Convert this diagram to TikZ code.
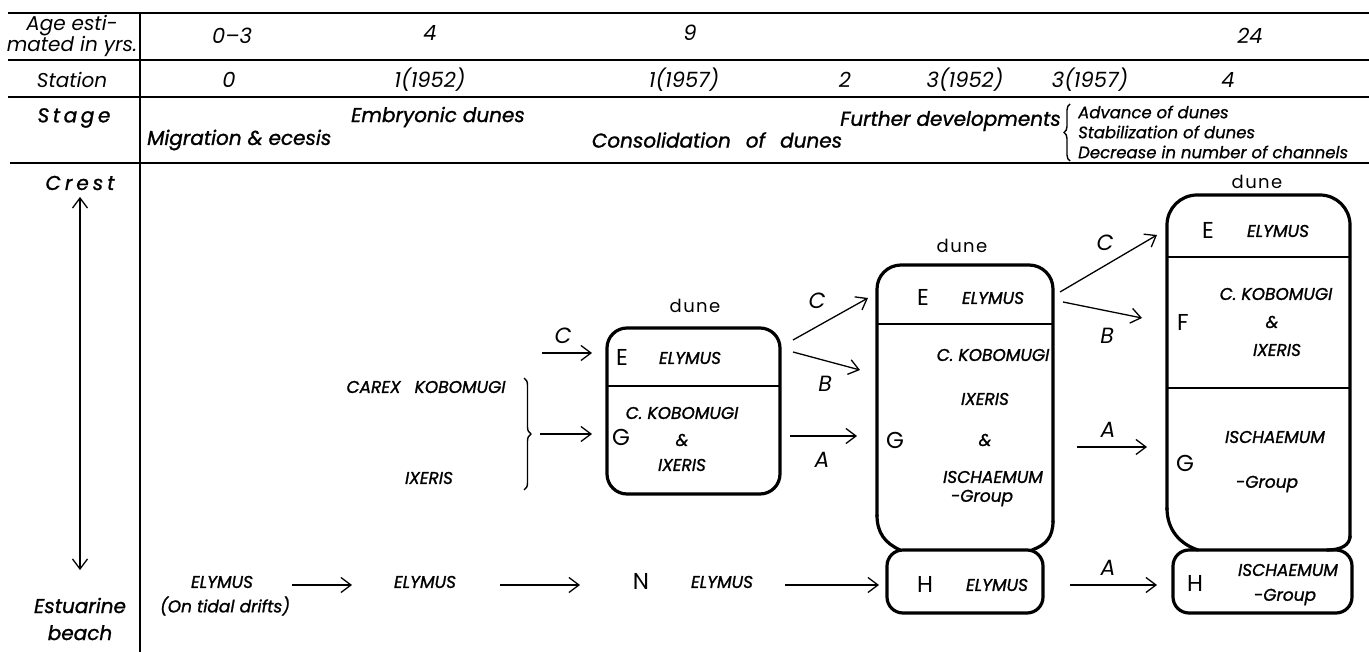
\documentclass[tikz,border=0pt]{standalone}
\usepackage{fontspec}
\setmainfont{Poppins}
\usetikzlibrary{arrows.meta,decorations.pathreplacing}
\begin{document}
\begin{tikzpicture}[x=1pt,y=-1pt,
  rule/.style={line width=1.8pt},
  thinrule/.style={line width=1.4pt},
  box/.style={line width=3.2pt,line join=round,line cap=round},
  arr/.style={line width=1.3pt,-{Straight Barb[length=10pt,width=15pt,line width=1.3pt]}},
  dbl/.style={line width=1.3pt,{Straight Barb[length=10pt,width=15pt,line width=1.3pt]}-{Straight Barb[length=10pt,width=15pt,line width=1.3pt]}},
  hd/.style={inner sep=0pt,align=center,font=\fontsize{20}{20}\selectfont\itshape},
  hv/.style={inner sep=0pt,align=center,font=\fontsize{21}{22}\selectfont\itshape},
  st/.style={inner sep=0pt,align=center,font=\fontsize{20}{27}\selectfont\itshape\addfontfeatures{FakeBold=1.2}},
  sm/.style={inner sep=0pt,font=\fontsize{16.5}{18}\selectfont\itshape\addfontfeatures{FakeBold=0.8}},
  sp/.style={inner sep=0pt,font=\fontsize{17}{19}\selectfont\itshape\addfontfeatures{FakeBold=1.2}},
  lt/.style={inner sep=0pt,font=\fontsize{23}{24}\selectfont},
  al/.style={inner sep=0pt,font=\fontsize{22}{24}\selectfont\itshape},
  dn/.style={inner sep=0pt,font=\fontsize{18}{20}\selectfont\addfontfeatures{LetterSpace=8}}
]
\useasboundingbox (0,0) rectangle (1369,652);
\fill[white] (0,0) rectangle (1369,652);

% table rules
\draw[rule] (8,13) -- (1369,13);
\draw[rule] (8,60) -- (1369,60);
\draw[rule] (8,97) -- (1369,97);
\draw[rule] (10,163) -- (1369,163);
\draw[rule] (140,13) -- (140,652);

% header column
\node[hd] (agehd) at (72,36) {Age esti-\\mated in yrs.};
\node[hd] (stathd) at (72,80) {Station};
\node[st] (stagehd) at (74,118) {\addfontfeatures{LetterSpace=18}Stage};

% age row
\node[hv] (ag0) at (232,36) {0–3};
\node[hv] (ag1) at (430,33) {4};
\node[hv] (ag2) at (690,33) {9};
\node[hv] (ag3) at (1250,36) {24};

% station row
\node[hv] (s0) at (229,80) {0};
\node[hv] (s1) at (430,80) {1(1952)};
\node[hv] (s2) at (684,80) {1(1957)};
\node[hv] (s3) at (845,80) {2};
\node[hv] (s4) at (965,80) {3(1952)};
\node[hv] (s5) at (1090,80) {3(1957)};
\node[hv] (s6) at (1228,80) {4};

% stage row
\node[st,anchor=west] (mig) at (147,140) {Migration \& ecesis};
\node[st] (emb) at (438,117) {Embryonic dunes};
\node[st] (cons) at (717,140) {Consolidation\hspace{9pt} of\hspace{9pt} dunes};
\node[st,anchor=east] (fur) at (1061,121) {Further developments};
\draw[thinrule,decorate,decoration={brace,amplitude=6pt}] (1070,161) -- (1070,104);
\node[sm,anchor=west] (adv) at (1078,112) {Advance of dunes};
\node[sm,anchor=west] (stab) at (1078,132) {Stabilization of dunes};
\node[sm,anchor=west] (dec) at (1078,152) {Decrease in number of channels};

% crest / beach axis
\node[st] (crest) at (80,183) {\addfontfeatures{LetterSpace=20}Crest};
\node[st] (est) at (80,619) {Estuarine\\beach};
\coordinate (ctop) at (80,197);
\coordinate (cbot) at (80,570);
\draw[dbl] (ctop) -- (cbot);

% initial species and brace
\node[sp] (carex) at (426,387) {CAREX\hspace{14pt}KOBOMUGI};
\node[sp] (ixl) at (429,478) {IXERIS};
\draw[thinrule,decorate,decoration={brace,amplitude=7pt}] (524,378) -- (524,490);
\coordinate (c1s) at (542,353);
\coordinate (c1e) at (592,353);
\draw[arr] (c1s) -- (c1e);
\node[al] (c1l) at (563,336) {C};
\coordinate (k1s) at (540,434);
\coordinate (k1e) at (592,434);
\draw[arr] (k1s) -- (k1e);

% box 1
\draw[box,rounded corners=20pt] (607,328) rectangle (780,494);
\draw[thinrule] (607,386) -- (780,386);
\node[dn] (b1d) at (695,306) {dune};
\node[lt] (b1E) at (622,357) {E};
\node[sp] (b1Es) at (690,358) {ELYMUS};
\node[lt] (b1G) at (621,437) {G};
\node[sp] (b1k) at (682,413) {C. KOBOMUGI};
\node[sp] (b1a) at (682,440) {\&};
\node[sp] (b1i) at (682,465) {IXERIS};

% arrows box1 -> box2
\coordinate (o1Cs) at (793,340);
\coordinate (o1Ce) at (868,298);
\draw[arr] (o1Cs) -- (o1Ce);
\node[al] (o1Cl) at (817,301) {C};
\coordinate (o1Bs) at (793,352);
\coordinate (o1Be) at (860,370);
\draw[arr] (o1Bs) -- (o1Be);
\node[al] (o1Bl) at (825,384) {B};
\coordinate (o1As) at (790,436);
\coordinate (o1Ae) at (857,436);
\draw[arr] (o1As) -- (o1Ae);
\node[al] (o1Al) at (822,460) {A};

% box 2
\draw[box,rounded corners=24pt] (877,516) -- (877,265) -- (1053,265) -- (1053,522);
\draw[box] (877,515) .. controls (877,533) and (885,543) .. (900,550);
\draw[box] (1053,521) .. controls (1053,537) and (1046,545) .. (1032,550);
\draw[thinrule] (877,324) -- (1053,324);
\draw[box,rounded corners=16pt] (887,550) rectangle (1043,613);
\node[dn] (b2d) at (962,246) {dune};
\node[lt] (b2E) at (923,297) {E};
\node[sp] (b2Es) at (993,298) {ELYMUS};
\node[lt] (b2G) at (895,440) {G};
\node[sp] (b2k) at (993,355) {C. KOBOMUGI};
\node[sp] (b2i) at (985,399) {IXERIS};
\node[sp] (b2a) at (985,440) {\&};
\node[sp] (b2s) at (993,477) {ISCHAEMUM};
\node[sp] (b2g) at (982,498) {-Group};
\node[lt] (b2H) at (925,584) {H};
\node[sp] (b2Hs) at (997,585) {ELYMUS};

% arrows box2 -> box3
\coordinate (o2Cs) at (1060,292);
\coordinate (o2Ce) at (1157,235);
\draw[arr] (o2Cs) -- (o2Ce);
\node[al] (o2Cl) at (1105,243) {C};
\coordinate (o2Bs) at (1063,302);
\coordinate (o2Be) at (1142,318);
\draw[arr] (o2Bs) -- (o2Be);
\node[al] (o2Bl) at (1107,336) {B};
\coordinate (o2As) at (1077,447);
\coordinate (o2Ae) at (1147,447);
\draw[arr] (o2As) -- (o2Ae);
\node[al] (o2Al) at (1108,430) {A};
\coordinate (o2Hs) at (1070,585);
\coordinate (o2He) at (1157,585);
\draw[arr] (o2Hs) -- (o2He);
\node[al] (o2Hl) at (1108,568) {A};

% box 3
\draw[box,rounded corners=30pt] (1167,510) -- (1167,195) -- (1350,195) -- (1350,538);
\draw[box] (1167,508) .. controls (1167,530) and (1180,544) .. (1198,550);
\draw[box] (1350,536) .. controls (1350,545) and (1341,550) .. (1327,550);
\draw[thinrule] (1167,257) -- (1350,257);
\draw[thinrule] (1167,388) -- (1350,388);
\draw[box,rounded corners=16pt] (1173,550) rectangle (1352,613);
\node[dn] (b3d) at (1257,182) {dune};
\node[lt] (b3E) at (1208,230) {E};
\node[sp] (b3Es) at (1278,231) {ELYMUS};
\node[lt] (b3F) at (1183,322) {F};
\node[sp] (b3k) at (1276,294) {C. KOBOMUGI};
\node[sp] (b3a) at (1272,322) {\&};
\node[sp] (b3i) at (1277,350) {IXERIS};
\node[lt] (b3G) at (1185,463) {G};
\node[sp] (b3s) at (1275,437) {ISCHAEMUM};
\node[sp] (b3g) at (1267,484) {-Group};
\node[lt] (b3H) at (1195,583) {H};
\node[sp] (b3Hs) at (1288,570) {ISCHAEMUM};
\node[sp] (b3Hg) at (1285,597) {-Group};

% bottom row
\node[sp] (e0) at (222,582) {ELYMUS};
\node[sp] (e0s) at (225,606) {(On tidal drifts)};
\coordinate (p1s) at (292,585);
\coordinate (p1e) at (352,585);
\draw[arr] (p1s) -- (p1e);
\node[sp] (e1) at (425,582) {ELYMUS};
\coordinate (p2s) at (500,585);
\coordinate (p2e) at (580,585);
\draw[arr] (p2s) -- (p2e);
\node[lt] (eN) at (641,581) {N};
\node[sp] (e2) at (722,582) {ELYMUS};
\coordinate (p3s) at (785,585);
\coordinate (p3e) at (879,585);
\draw[arr] (p3s) -- (p3e);
\end{tikzpicture}
\end{document}
